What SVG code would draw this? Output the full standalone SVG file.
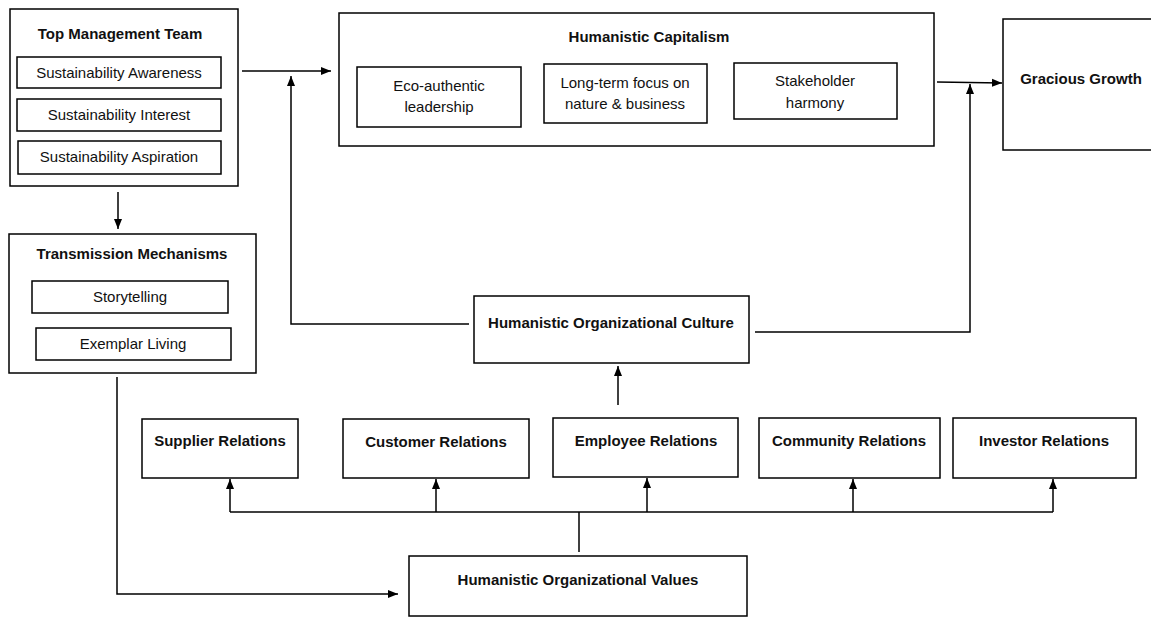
<svg xmlns="http://www.w3.org/2000/svg" width="1151" height="617" viewBox="0 0 1151 617">
<style>
rect{fill:#fff;stroke:#000;stroke-width:1.5}
text{font-family:"Liberation Sans",Arial,sans-serif;font-size:15px;fill:#111;text-anchor:middle}
.b{font-weight:bold}
.c line,.c polyline{stroke:#000;stroke-width:1.5;fill:none}
</style>
<defs>
<marker id="ah" viewBox="0 0 10 10" refX="10" refY="5" markerWidth="10" markerHeight="10" markerUnits="userSpaceOnUse" orient="auto">
<path d="M0,1 L10,5 L0,9 Z" fill="#000"/>
</marker>
</defs>
<g id="tmt">
<rect x="10" y="9" width="228" height="177"/>
<text class="b" x="120" y="39">Top Management Team</text>
<rect x="17" y="57" width="204" height="31"/>
<text x="119" y="78">Sustainability Awareness</text>
<rect x="17" y="99" width="204" height="32"/>
<text x="119" y="120">Sustainability Interest</text>
<rect x="18" y="141" width="203" height="33"/>
<text x="119" y="162">Sustainability Aspiration</text>
</g>
<g id="tm">
<rect x="9" y="234" width="247" height="139"/>
<text class="b" x="132" y="259">Transmission Mechanisms</text>
<rect x="32" y="281" width="196" height="32"/>
<text x="130" y="302">Storytelling</text>
<rect x="36" y="328" width="195" height="32"/>
<text x="133" y="349">Exemplar Living</text>
</g>
<g id="hc">
<rect x="339" y="13" width="595" height="133"/>
<text class="b" x="649" y="42">Humanistic Capitalism</text>
<rect x="357" y="67" width="164" height="60"/>
<text x="439" y="91">Eco-authentic</text>
<text x="439" y="112">leadership</text>
<rect x="544" y="64" width="163" height="59"/>
<text x="625" y="88">Long-term focus on</text>
<text x="625" y="109">nature &amp; business</text>
<rect x="734" y="63" width="163" height="56"/>
<text x="815" y="86">Stakeholder</text>
<text x="815" y="108">harmony</text>
</g>
<g id="gg">
<rect x="1003" y="19" width="150" height="131"/>
<text class="b" x="1081" y="84">Gracious Growth</text>
</g>
<g id="hoc">
<rect x="474" y="296" width="275" height="67"/>
<text class="b" x="611" y="328">Humanistic Organizational Culture</text>
</g>
<g id="supplier">
<rect x="142" y="419" width="156" height="59"/>
<text class="b" x="220" y="446">Supplier Relations</text>
</g>
<g id="customer">
<rect x="343" y="419" width="186" height="59"/>
<text class="b" x="436" y="447">Customer Relations</text>
</g>
<g id="employee">
<rect x="553" y="418" width="185" height="59"/>
<text class="b" x="646" y="446">Employee Relations</text>
</g>
<g id="community">
<rect x="759" y="418" width="181" height="60"/>
<text class="b" x="849" y="446">Community Relations</text>
</g>
<g id="investor">
<rect x="953" y="418" width="183" height="60"/>
<text class="b" x="1044" y="446">Investor Relations</text>
</g>
<g id="hov">
<rect x="409" y="556" width="338" height="60"/>
<text class="b" x="578" y="585">Humanistic Organizational Values</text>
</g>
<g id="connectors" class="c">
<line x1="242" y1="71" x2="331" y2="71" marker-end="url(#ah)"/>
<line x1="118" y1="192" x2="118" y2="229" marker-end="url(#ah)"/>
<polyline points="117,377 117,594 398,594" marker-end="url(#ah)"/>
<line x1="579" y1="552" x2="579" y2="512"/>
<line x1="230" y1="512" x2="1053" y2="512"/>
<line x1="230" y1="512" x2="230" y2="479" marker-end="url(#ah)"/>
<line x1="436" y1="512" x2="436" y2="479" marker-end="url(#ah)"/>
<line x1="647" y1="512" x2="647" y2="478" marker-end="url(#ah)"/>
<line x1="853" y1="512" x2="853" y2="479" marker-end="url(#ah)"/>
<line x1="1053" y1="512" x2="1053" y2="479" marker-end="url(#ah)"/>
<line x1="618" y1="405" x2="618" y2="366" marker-end="url(#ah)"/>
<polyline points="469,324 291,324 291,76" marker-end="url(#ah)"/>
<polyline points="755,332 970,332 970,84" marker-end="url(#ah)"/>
<line x1="937" y1="82" x2="1002" y2="83" marker-end="url(#ah)"/>
</g>
</svg>
